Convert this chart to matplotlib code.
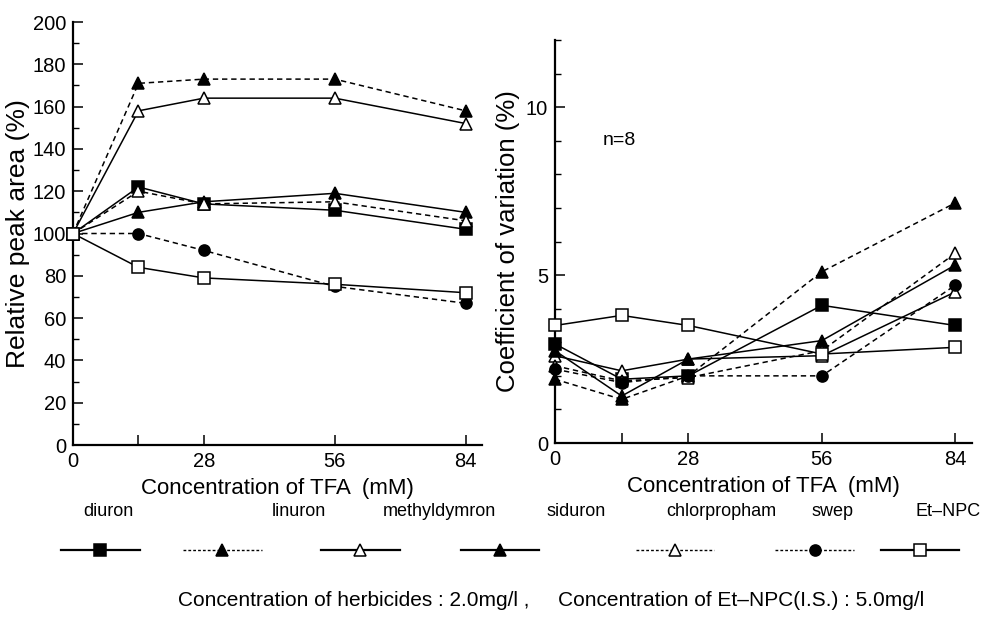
"""Relative peak area and CV vs TFA concentration for seven herbicides."""

import matplotlib

matplotlib.use("Agg")
import matplotlib.pyplot as plt  # noqa: E402
from matplotlib.ticker import MultipleLocator  # noqa: E402

plt.rcParams["font.family"] = ["Liberation Sans", "DejaVu Sans"]

tfa = [0, 14, 28, 56, 84]
names = ["diuron", "linuron", "methyldymron", "siduron", "chlorpropham", "swep", "Et\u2013NPC"]

# relative peak area (%)
area_diuron = [100, 122, 114, 111, 102]
area_linuron = [100, 171, 173, 173, 158]
area_methyldymron = [100, 158, 164, 164, 152]
area_siduron = [100, 110, 115, 119, 110]
area_chlorpropham = [100, 120, 114, 115, 106]
area_swep = [100, 100, 92, 75, 67]
area_etnpc = [100, 84, 79, 76, 72]

# coefficient of variation (%)
cv_diuron = [2.95, 1.9, 2.0, 4.1, 3.5]
cv_linuron = [1.9, 1.3, 2.0, 5.1, 7.15]
cv_methyldymron = [2.6, 2.15, 2.5, 2.6, 4.5]
cv_siduron = [2.75, 1.4, 2.5, 3.05, 5.3]
cv_chlorpropham = [2.3, 1.85, 1.95, 2.75, 5.65]
cv_swep = [2.2, 1.8, 2.0, 2.0, 4.7]
cv_etnpc = [3.5, 3.8, 3.5, 2.65, 2.85]

area = [area_diuron, area_linuron, area_methyldymron, area_siduron,
        area_chlorpropham, area_swep, area_etnpc]
cv = [cv_diuron, cv_linuron, cv_methyldymron, cv_siduron,
      cv_chlorpropham, cv_swep, cv_etnpc]

# (marker, filled, linestyle)
styles = [("s", True, "-"), ("^", True, "--"), ("^", False, "-"), ("^", True, "-"),
          ("^", False, "--"), ("o", True, "--"), ("s", False, "-")]


def line_kw(marker, filled, ls):
    return dict(marker=marker, ms=8, mec="black", mew=1.1,
                mfc="black" if filled else "white", color="black", lw=1.1,
                linestyle=ls if ls == "-" else (0, (3.5, 2.5)))


def style_axes(ax):
    for side in ("top", "right"):
        ax.spines[side].set_visible(False)
    for side in ("left", "bottom"):
        ax.spines[side].set_linewidth(1.6)
    ax.tick_params(which="both", direction="in", labelsize=14.5)
    ax.tick_params(which="major", length=7, width=1.1, pad=5)
    ax.tick_params(which="minor", length=4, width=1.0)
    ax.set_xticks([0, 14, 28, 56, 84])
    ax.set_xticklabels(["0", "", "28", "56", "84"])
    ax.set_xlim(0, 87.5)
    ax.set_xlabel("Concentration of TFA  (mM)", fontsize=16, labelpad=5)


fig = plt.figure(figsize=(9.84, 6.38), dpi=100)

ax1 = fig.add_axes([0.0742, 0.3025, 0.4157, 0.663])
for y, (m, f, ls) in zip(area, styles):
    ax1.plot(tfa, y, **line_kw(m, f, ls), clip_on=False, zorder=3)
style_axes(ax1)
ax1.set_ylim(0, 200)
ax1.yaxis.set_major_locator(MultipleLocator(20))
ax1.yaxis.set_minor_locator(MultipleLocator(10))
ax1.set_ylabel("Relative peak area (%)", fontsize=19, labelpad=2)

ax2 = fig.add_axes([0.564, 0.3056, 0.4238, 0.6317])
for y, (m, f, ls) in zip(cv, styles):
    ax2.plot(tfa, y, **line_kw(m, f, ls), clip_on=False, zorder=3)
style_axes(ax2)
ax2.set_ylim(0, 12)
ax2.yaxis.set_major_locator(MultipleLocator(5))
ax2.yaxis.set_minor_locator(MultipleLocator(1))
ax2.set_ylabel("Coefficient of variation (%)", fontsize=18.5, labelpad=4)
ax2.text(10, 9.0, "n=8", fontsize=14, va="center")

# legend row: names above short line samples
leg = fig.add_axes([0, 0, 1, 1])
leg.set_xlim(0, 1)
leg.set_ylim(0, 1)
leg.axis("off")
name_x = [0.110, 0.304, 0.447, 0.586, 0.733, 0.846, 0.963]
sample_x = [0.102, 0.226, 0.366, 0.508, 0.686, 0.828, 0.935]
for name, nx, sx, (m, f, ls) in zip(names, name_x, sample_x, styles):
    leg.text(nx, 0.198, name, fontsize=13, ha="center", va="center")
    kw = line_kw(m, f, ls)
    kw["linestyle"] = "-" if ls == "-" else (0, (2, 1.5))
    kw["lw"] = 1.6 if ls == "-" else 1.0
    leg.plot([sx - 0.04, sx, sx + 0.04], [0.138, 0.138, 0.138], markevery=[1], **kw)

fig.text(0.56, 0.058,
         "Concentration of herbicides : 2.0mg/l ,     Concentration of Et\u2013NPC(I.S.) : 5.0mg/l",
         fontsize=15, ha="center", va="center")

fig.savefig("out.png", dpi=100)
